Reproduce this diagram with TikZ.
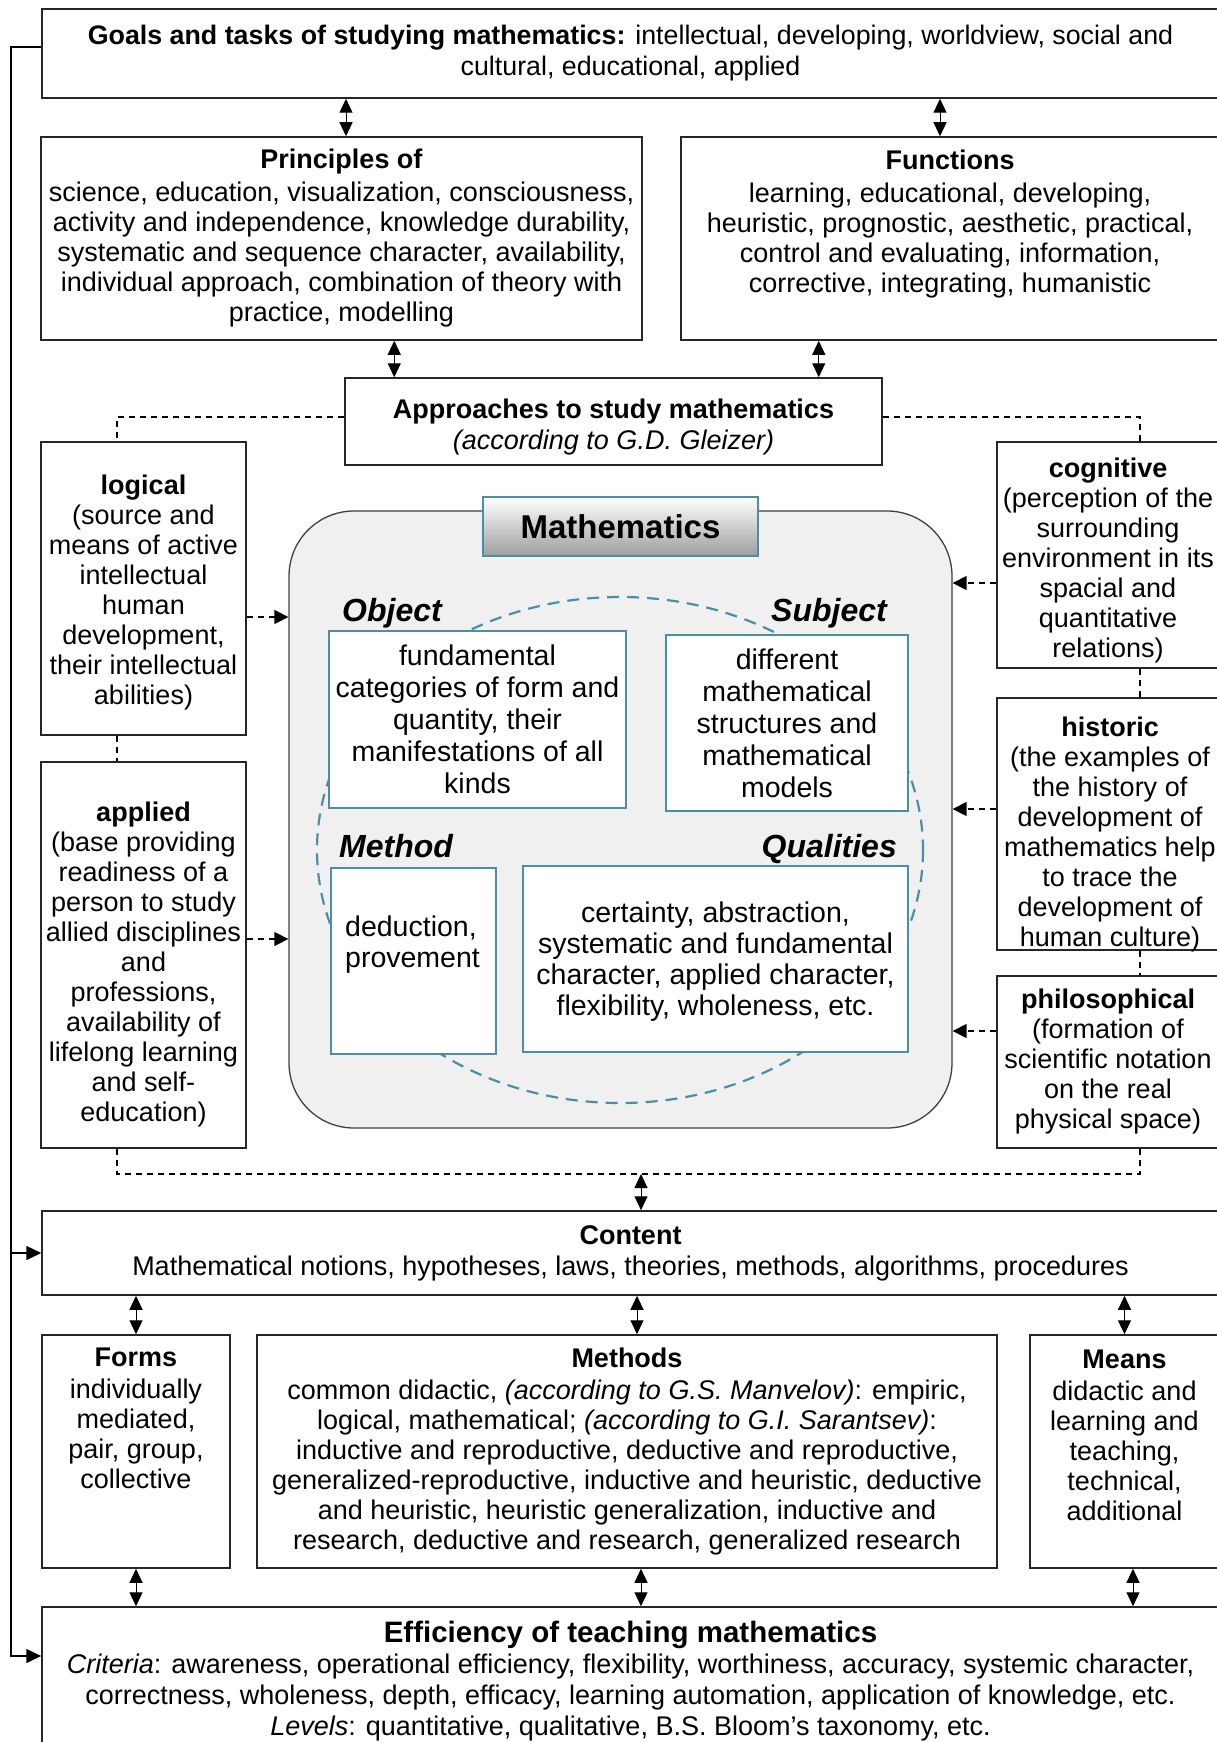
\documentclass[tikz,border=0pt]{standalone}
\usepackage{fontspec}
\setmainfont{Liberation Sans}
\usetikzlibrary{arrows.meta}
\definecolor{teal1}{HTML}{4A8FA5}
\definecolor{mgray}{HTML}{F0F0F0}
\newcommand\fsz[2]{\fontsize{#1}{#2}\selectfont}
\begin{document}
\begin{tikzpicture}[x=1pt,y=-1pt,
 box/.style={draw=black!85, line width=1.5pt, fill=white, inner sep=0pt, align=center, font=\fsz{27}{30}},
 tbox/.style={draw=teal1, line width=1.4pt, fill=white, inner sep=0pt, align=center, font=\fsz{28.5}{32}},
 txt/.style={inner sep=0pt, align=center, font=\fsz{27}{30}},
 dbl/.style={line width=1pt, {Triangle[length=14pt,width=13pt]}-{Triangle[length=14pt,width=13pt]}},
 dsh/.style={line width=1.4pt, dash pattern=on 6pt off 5pt},
 dar/.style={dsh, -{Triangle[length=14pt,width=14pt]}},
 sar/.style={line width=1.5pt, -{Triangle[length=15pt,width=14pt]}},
 lbl/.style={inner sep=0pt, font=\fsz{32}{34}\bfseries\itshape}]
\useasboundingbox (0,0) rectangle (1217,1742);
\clip (0,0) rectangle (1217,1742);

% top boxes
\node[box, minimum width=1177pt, minimum height=89pt, font=\fsz{26.8}{31}] (goals) at (630.5,53.5)
 {\textbf{Goals and tasks of studying mathematics:} intellectual, developing, worldview, social and\\cultural, educational, applied};
\node[box, minimum width=601pt, minimum height=203pt] (princ) at (341.5,238.5)
 {\textbf{Principles of}\\[3pt]science, education, visualization, consciousness,\\activity and independence, knowledge durability,\\systematic and sequence character, availability,\\individual approach, combination of theory with\\practice, modelling};
\node[box, minimum width=538pt, minimum height=203pt] (func) at (950,238.5) {};
\node[txt] (tfunc) at (950,224)
 {\textbf{Functions}\\[3pt]learning, educational, developing,\\heuristic, prognostic, aesthetic, practical,\\control and evaluating, information,\\corrective, integrating, humanistic};
\node[box, minimum width=537pt, minimum height=87pt] (appr) at (613.5,421.5) {};
\node[txt, font=\fsz{27}{31}] (tappr) at (613.5,427)
 {\textbf{Approaches to study mathematics}\\\textit{(according to G.D. Gleizer)}};

% side boxes
\node[box, minimum width=205pt, minimum height=293pt] (logical) at (143.5,588.5) {};
\node[txt] (tlogical) at (143.5,592.5)
 {\textbf{logical}\\(source and\\means of active\\intellectual\\human\\development,\\their intellectual\\abilities)};
\node[box, minimum width=205pt, minimum height=386pt] (applied) at (143.5,955) {};
\node[txt] (tapplied) at (143.5,964)
 {\textbf{applied}\\(base providing\\readiness of a\\person to study\\allied disciplines\\and\\professions,\\availability of\\lifelong learning\\and self-\\education)};
\node[box, minimum width=222pt, minimum height=226pt] (cogn) at (1108,555) {};
\node[txt] (tcogn) at (1108,560.5)
 {\textbf{cognitive}\\(perception of the\\surrounding\\environment in its\\spacial and\\quantitative\\relations)};
\node[box, minimum width=222pt, minimum height=252pt] (hist) at (1108,824) {};
\node[txt] (thist) at (1110,835)
 {\textbf{historic}\\(the examples of\\the history of\\development of\\mathematics help\\to trace the\\development of\\human culture)};
\node[box, minimum width=222pt, minimum height=172pt] (phil) at (1108,1062)
 {\textbf{philosophical}\\(formation of\\scientific notation\\on the real\\physical space)};

% mathematics block
\node[draw=black!75, line width=1.3pt, fill=mgray, rounded corners=65pt, minimum width=663pt, minimum height=617pt, inner sep=0pt] (math) at (620.5,819.5) {};
\draw[teal1, line width=2.2pt, dash pattern=on 12pt off 8pt] (620,850) ellipse [x radius=303, y radius=253];
\node[draw=teal1, line width=1.4pt, top color=white, bottom color=black!38, minimum width=275pt, minimum height=59pt, inner sep=0pt, font=\fsz{33}{36}\bfseries] (mtitle) at (620.5,526.5) {Mathematics};

\node[lbl, anchor=base west] (lobj) at (342,621) {Object};
\node[lbl, anchor=base east] (lsubj) at (887,621) {Subject};
\node[lbl, anchor=base west] (lmeth) at (339,857) {Method};
\node[lbl, anchor=base east] (lqual) at (897,857) {Qualities};

\node[tbox, minimum width=297pt, minimum height=177pt] (obj) at (477.5,719.5)
 {fundamental\\categories of form and\\quantity, their\\manifestations of all\\kinds};
\node[tbox, minimum width=242pt, minimum height=176pt] (subj) at (787,723)
 {different\\mathematical\\structures and\\mathematical\\models};
\node[tbox, minimum width=165pt, minimum height=186pt] (meth) at (413.5,961) {};
\node[txt, font=\fsz{28.5}{31}, align=left, anchor=west] (tmeth) at (345,945) {deduction,\\provement};
\node[tbox, minimum width=385pt, minimum height=186pt] (qual) at (715.5,959) {};
\node[txt, font=\fsz{28.5}{31}] (tqual) at (715.5,962)
 {certainty, abstraction,\\systematic and fundamental\\character, applied character,\\flexibility, wholeness, etc.};

% lower boxes
\node[box, minimum width=1177pt, minimum height=84pt, font=\fsz{27}{31}] (content) at (630.5,1253)
 {\textbf{Content}\\Mathematical notions, hypotheses, laws, theories, methods, algorithms, procedures};
\node[box, minimum width=188pt, minimum height=233pt] (forms) at (136,1451.5) {};
\node[txt] (tforms) at (136,1418) {\textbf{Forms}\\[2pt]individually\\mediated,\\pair, group,\\collective};
\node[box, minimum width=740pt, minimum height=233pt] (methods) at (627,1451.5)
 {\textbf{Methods}\\[2pt]common didactic, \textit{(according to G.S. Manvelov)}: empiric,\\logical, mathematical; \textit{(according to G.I. Sarantsev)}:\\inductive and reproductive, deductive and reproductive,\\generalized-reproductive, inductive and heuristic, deductive\\and heuristic, heuristic generalization, inductive and\\research, deductive and research, generalized research};
\node[box, minimum width=189pt, minimum height=233pt] (means) at (1124.5,1451.5) {};
\node[txt] (tmeans) at (1124.5,1435.5) {\textbf{Means}\\[2pt]didactic and\\learning and\\teaching,\\technical,\\additional};
\node[box, minimum width=1177pt, minimum height=139pt] (eff) at (630.5,1676.5) {};
\node[txt, font=\fsz{27}{31}] (teff) at (630.5,1681)
 {{\fsz{29.5}{32}\bfseries Efficiency of teaching mathematics}\\\textit{Criteria}: awareness, operational efficiency, flexibility, worthiness, accuracy, systemic character,\\correctness, wholeness, depth, efficacy, learning automation, application of knowledge, etc.\\\textit{Levels}: quantitative, qualitative, B.S. Bloom's taxonomy, etc.};

% double arrows
\coordinate (g1) at ([xshift=4.5pt]princ.north);
\coordinate (g2) at ([xshift=-10pt]func.north);
\draw[dbl] (g1 |- goals.south) -- (g1);
\draw[dbl] (g2 |- goals.south) -- (g2);
\coordinate (a1) at ([xshift=50pt]appr.north west);
\coordinate (a2) at ([xshift=-64pt]appr.north east);
\draw[dbl] (a1 |- princ.south) -- (a1);
\draw[dbl] (a2 |- func.south) -- (a2);

% dashed frame of approaches
\coordinate (dl) at ([xshift=-26.5pt]logical.north);
\coordinate (dr) at ([xshift=32pt]cogn.north);
\coordinate (bl) at (117,1174);
\coordinate (br) at (1140,1174);
\coordinate (bm) at (641,1174);
\draw[dsh] ([yshift=4.5pt]appr.west) -| (dl);
\draw[dsh] ([yshift=4.5pt]appr.east) -| (dr);
\draw[dsh] (logical.south -| dl) -- (applied.north -| dl);
\draw[dsh] (cogn.south -| dr) -- (hist.north -| dr);
\draw[dsh] (hist.south -| dr) -- (phil.north -| dr);
\draw[dsh] (applied.south -| dl) -- (bl) -- (br) -- (phil.south -| dr);
\draw[dbl] (bm) -- (bm |- content.north);

% dashed arrows into mathematics
\coordinate (p1) at ([yshift=-28.5pt]logical.east);
\coordinate (p2) at ([yshift=16pt]applied.east);
\coordinate (p3) at ([yshift=-28pt]cogn.west);
\coordinate (p4) at ([yshift=15pt]hist.west);
\coordinate (p5) at ([yshift=31pt]phil.west);
\draw[dar] (p1) -- (p1 -| math.west);
\draw[dar] (p2) -- (p2 -| math.west);
\draw[dar] (p3) -- (p3 -| math.east);
\draw[dar] (p4) -- (p4 -| math.east);
\draw[dar] (p5) -- (p5 -| math.east);

% content to lower boxes
\coordinate (c2) at ([xshift=10pt]methods.north);
\draw[dbl] (forms.north |- content.south) -- (forms.north);
\draw[dbl] (c2 |- content.south) -- (c2);
\draw[dbl] (means.north |- content.south) -- (means.north);
\coordinate (e2) at ([xshift=14pt]methods.south);
\coordinate (e3) at ([xshift=8.5pt]means.south);
\draw[dbl] (forms.south) -- (forms.south |- eff.north);
\draw[dbl] (e2) -- (e2 |- eff.north);
\draw[dbl] (e3) -- (e3 |- eff.north);

% feedback line
\coordinate (lx) at (11,47);
\coordinate (e1) at ([yshift=20.5pt]eff.west);
\draw[sar] ([yshift=6.5pt]goals.west) -| (lx |- e1) -- (e1);
\draw[sar] (lx |- content.west) -- (content.west);
\end{tikzpicture}
\end{document}
